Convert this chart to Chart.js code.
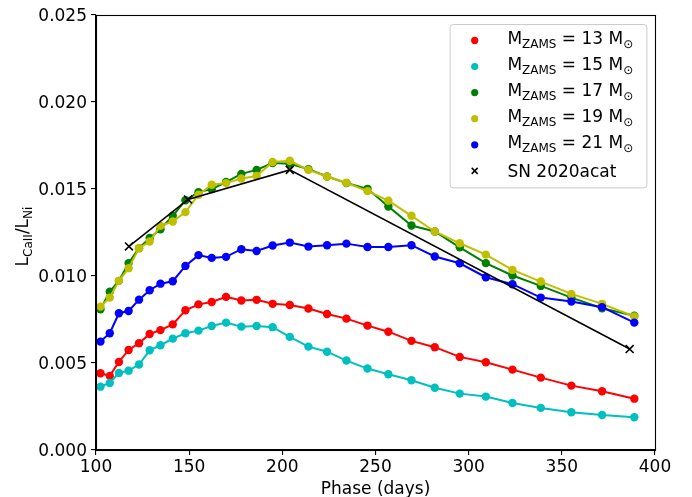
<!DOCTYPE html>
<html><head><meta charset="utf-8">
<script src="https://cdn.jsdelivr.net/npm/chart.js@4/dist/chart.umd.min.js"></script>
<style>html,body{margin:0;padding:0;background:#fff;} #c{display:block;}</style>
</head><body>
<canvas id="c" width="692" height="497"></canvas>
<script>
// ---- data ----
const phaseDays = [102.4, 107.4, 112.3, 117.5, 123.1, 128.8, 134.6, 141.2, 148.0, 155.0,
  162.1, 169.8, 178.0, 186.2, 194.8, 204.0, 214.0, 224.0, 234.4, 245.7,
  256.9, 269.3, 281.8, 295.2, 309.2, 323.5, 338.7, 355.1, 371.6, 388.9];
const ratio13 = [0.00441, 0.00426, 0.00506, 0.00575, 0.00614, 0.00667, 0.00689, 0.00722, 0.00803, 0.00837,
  0.00851, 0.00880, 0.00859, 0.00863, 0.00840, 0.00833, 0.00813, 0.00782, 0.00755, 0.00715,
  0.00680, 0.00627, 0.00591, 0.00535, 0.00504, 0.00462, 0.00416, 0.00370, 0.00338, 0.00295];
const ratio15 = [0.00364, 0.00385, 0.00443, 0.00456, 0.00491, 0.00573, 0.00602, 0.00640, 0.00671, 0.00686,
  0.00713, 0.00732, 0.00709, 0.00713, 0.00706, 0.00650, 0.00594, 0.00565, 0.00514, 0.00468,
  0.00435, 0.00401, 0.00358, 0.00324, 0.00307, 0.00270, 0.00242, 0.00217, 0.00201, 0.00188];
const ratio17 = [0.00809, 0.00910, 0.00972, 0.01074, 0.01160, 0.01218, 0.01269, 0.01346, 0.01435, 0.01482,
  0.01499, 0.01540, 0.01587, 0.01610, 0.01649, 0.01645, 0.01614, 0.01572, 0.01534, 0.01501,
  0.01399, 0.01290, 0.01256, 0.01165, 0.01074, 0.01003, 0.00943, 0.00876, 0.00815, 0.00772];
const ratio19 = [0.00824, 0.00876, 0.00972, 0.01045, 0.01160, 0.01198, 0.01288, 0.01313, 0.01367, 0.01467,
  0.01524, 0.01534, 0.01560, 0.01575, 0.01655, 0.01662, 0.01610, 0.01572, 0.01536, 0.01488,
  0.01433, 0.01346, 0.01256, 0.01188, 0.01123, 0.01035, 0.00968, 0.00897, 0.00840, 0.00767];
const ratio21 = [0.00623, 0.00671, 0.00786, 0.00799, 0.00864, 0.00918, 0.00956, 0.00970, 0.01058, 0.01120,
  0.01104, 0.01110, 0.01154, 0.01144, 0.01175, 0.01192, 0.01169, 0.01177, 0.01186, 0.01167,
  0.01167, 0.01177, 0.01112, 0.01073, 0.00993, 0.00953, 0.00876, 0.00853, 0.00821, 0.00732];
const snPhase = [117.7, 149.4, 204.0, 386.4];
const snRatio = [0.0117, 0.0144, 0.0161, 0.0058];
const modelLabels = ['M_{ZAMS} = 13 M_{⊙}', 'M_{ZAMS} = 15 M_{⊙}', 'M_{ZAMS} = 17 M_{⊙}',
  'M_{ZAMS} = 19 M_{⊙}', 'M_{ZAMS} = 21 M_{⊙}'];
const snLabel = 'SN 2020acat';
const xTicks = [100, 150, 200, 250, 300, 350, 400];
const yTicks = [0.000, 0.005, 0.010, 0.015, 0.020, 0.025];
const xTitle = 'Phase (days)';
const yTitle = 'L_{CaII}/L_{Ni}';

// ---- styling ----
const FONT = 'DejaVu Sans';
const FS = 17, SUBFS = 12;
const modelColors = ['#ff0000', '#00bfbf', '#008000', '#bfbf00', '#0000ff'];
const modelSeries = [ratio13, ratio15, ratio17, ratio19, ratio21];

function parseRich(s) {
  const out = []; const re = /_\{([^}]*)\}/g; let last = 0, m;
  while ((m = re.exec(s))) {
    if (m.index > last) out.push([s.slice(last, m.index), false]);
    out.push([m[1], true]); last = re.lastIndex;
  }
  if (last < s.length) out.push([s.slice(last), false]);
  return out;
}
function richWidth(ctx, parts) {
  let w = 0;
  for (const [t, sub] of parts) { ctx.font = (sub ? SUBFS : FS) + 'px "' + FONT + '"'; w += ctx.measureText(t).width; }
  return w;
}
function drawRich(ctx, parts, x, y) {
  ctx.textBaseline = 'alphabetic'; ctx.textAlign = 'left';
  for (const [t, sub] of parts) {
    ctx.font = (sub ? SUBFS : FS) + 'px "' + FONT + '"';
    ctx.fillText(t, x, y + (sub ? 3.5 : 0));
    x += ctx.measureText(t).width;
  }
}

const datasets = modelSeries.map((arr, i) => ({
  label: modelLabels[i],
  data: phaseDays.map((d, j) => ({x: d, y: arr[j]})),
  borderColor: modelColors[i], backgroundColor: modelColors[i],
  pointBackgroundColor: modelColors[i], pointBorderWidth: 0,
  pointRadius: 4.2, borderWidth: 2, tension: 0, order: 10 - i
}));
datasets.push({
  label: snLabel,
  data: snPhase.map((d, j) => ({x: d, y: snRatio[j]})),
  borderColor: '#000', backgroundColor: '#000', pointBorderColor: '#000',
  pointStyle: 'crossRot', pointRadius: 5.6, pointBorderWidth: 1.6,
  borderWidth: 1.6, tension: 0, order: 0
});

const decor = {
  id: 'decor',
  afterDraw(chart) {
    const ctx = chart.ctx, a = chart.chartArea;
    ctx.save();
    // frame
    ctx.strokeStyle = '#000'; ctx.lineWidth = 1.1;
    ctx.strokeRect(Math.round(a.left) + 0.5, Math.round(a.top) + 0.5, Math.round(a.right - a.left), Math.round(a.bottom - a.top));
    // y title
    const yp = parseRich(yTitle);
    const w = richWidth(ctx, yp);
    ctx.translate(28.3, (a.top + a.bottom) / 2 + 4);
    ctx.rotate(-Math.PI / 2);
    ctx.fillStyle = '#000';
    drawRich(ctx, yp, -w / 2, 0);
    ctx.restore();

    // legend
    ctx.save();
    const bx = a.right - 205.3, by = a.top + 9, bw = 196.7, bh = 163.4;
    ctx.beginPath();
    ctx.roundRect(bx + 0.5, by + 0.5, bw, bh, 3);
    ctx.fillStyle = 'rgba(255,255,255,0.8)'; ctx.fill();
    ctx.strokeStyle = '#cccccc'; ctx.lineWidth = 1; ctx.stroke();
    const labels = modelLabels.concat([snLabel]);
    labels.forEach((lab, i) => {
      const cy = by + 16.4 + i * 26.1;
      const mx = bx + 25;
      if (i < modelLabels.length) {
        ctx.beginPath(); ctx.arc(mx, cy, 3.6, 0, Math.PI * 2);
        ctx.fillStyle = modelColors[i]; ctx.fill();
      } else {
        ctx.beginPath(); ctx.strokeStyle = '#000'; ctx.lineWidth = 1.5;
        ctx.moveTo(mx - 3, cy - 3); ctx.lineTo(mx + 3, cy + 3);
        ctx.moveTo(mx - 3, cy + 3); ctx.lineTo(mx + 3, cy - 3); ctx.stroke();
      }
      const parts = parseRich(lab);
      const hasSub = parts.some(p => p[1]);
      ctx.fillStyle = '#000';
      drawRich(ctx, parts, bx + 57.7, cy + (hasSub ? 3.6 : 6.5));
    });
    ctx.restore();
  }
};

new Chart(document.getElementById('c'), {
  type: 'line',
  data: {datasets},
  options: {
    responsive: false, animation: false, devicePixelRatio: 1,
    layout: {padding: {top: 15, right: 37, left: 0, bottom: 0}},
    plugins: {legend: {display: false}, tooltip: {enabled: false}},
    scales: {
      x: {
        type: 'linear', min: 100, max: 400,
        afterBuildTicks: s => { s.ticks = xTicks.map(v => ({value: v})); },
        grid: {drawOnChartArea: false, drawTicks: true, tickLength: 5, color: '#000', lineWidth: 1.1},
        border: {display: true, color: '#000', width: 1.1},
        ticks: {color: '#000', font: {family: FONT, size: FS}, padding: 2, maxRotation: 0, autoSkip: false},
        title: {display: true, text: xTitle, color: '#000', font: {family: FONT, size: FS}, padding: {top: 0, bottom: -3}},
        afterFit: s => { s.height = 47; }
      },
      y: {
        type: 'linear', min: 0, max: 0.025,
        afterBuildTicks: s => { s.ticks = yTicks.map(v => ({value: v})); },
        grid: {drawOnChartArea: false, drawTicks: true, tickLength: 5, color: '#000', lineWidth: 1.1},
        border: {display: true, color: '#000', width: 1.1},
        ticks: {color: '#000', font: {family: FONT, size: FS}, padding: 4, autoSkip: false, labelOffset: 1.5,
          callback: v => Number(v).toFixed(3)},
        afterFit: s => { s.width = 96; }
      }
    }
  },
  plugins: [decor]
});
</script>
</body></html>
